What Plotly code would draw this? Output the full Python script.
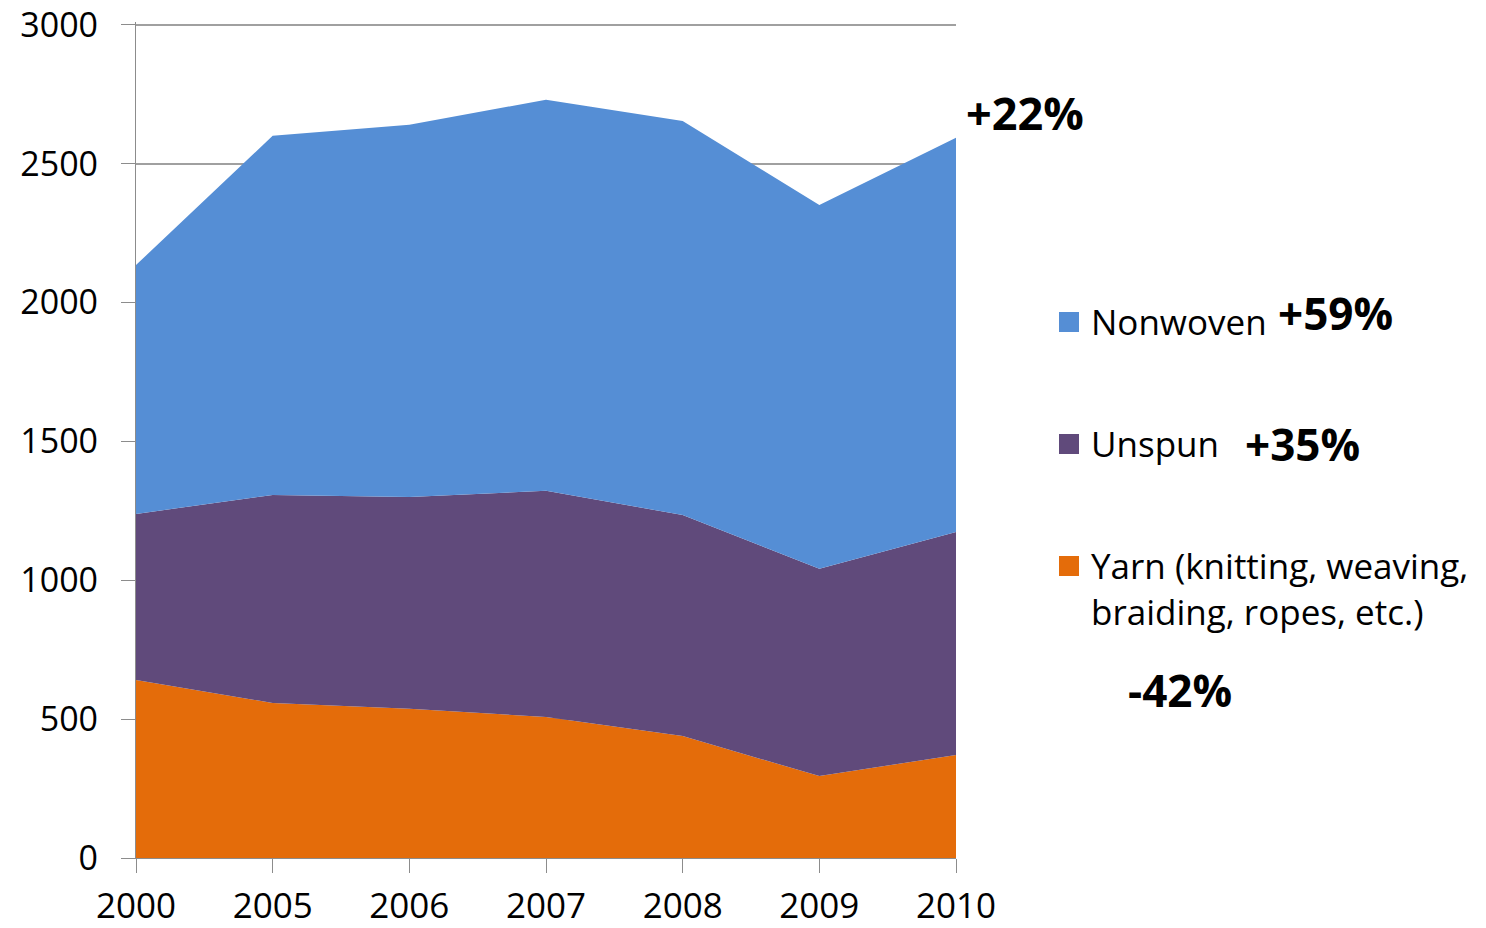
import plotly.graph_objects as go

years = ["2000", "2005", "2006", "2007", "2008", "2009", "2010"]
yarn = [641, 558, 537, 508, 439, 295, 371]
unspun = [598, 749, 763, 814, 796, 746, 803]
nonwoven = [896, 1293, 1340, 1408, 1419, 1310, 1419]

series_names = ["Yarn (knitting, weaving,<br>braiding, ropes, etc.)", "Unspun", "Nonwoven"]
series_colors = ["#E46C0A", "#604A7B", "#558ED5"]
series_changes = ["-42%", "+35%", "+59%"]
total_change = "+22%"
y_ticks = [0, 500, 1000, 1500, 2000, 2500, 3000]
y_max = 3010  # slightly above 3000 so the top gridline is drawn

# target geometry in window pixels; page body has an 8px default margin
OFF = 8
W, H = 1486, 928
L, R, T, B = 136, 530, 22, 70
PW, PH = W - L - R, H - T - B

def px(x):
    return (x - L) / PW

def py(y):
    return (H - B - y) / PH

FONT = "Open Sans"

fig = go.Figure()
for vals, name, col in zip([yarn, unspun, nonwoven], series_names, series_colors):
    fig.add_trace(go.Scatter(
        x=years, y=vals, name=name, stackgroup="one", mode="lines",
        line=dict(width=0, color=col), fillcolor=col, showlegend=False,
    ))

fig.update_layout(
    width=W - OFF, height=H - OFF,
    margin=dict(l=L - OFF, r=R, t=T - OFF, b=B, autoexpand=False),
    paper_bgcolor="white", plot_bgcolor="white",
    font=dict(family=FONT, size=36, color="#000000"),
    showlegend=False,
    xaxis=dict(
        type="category", range=[0, 6], showline=True, linecolor="#8c8c8c", linewidth=1.3,
        ticks="outside", ticklen=14, tickcolor="#8c8c8c", tickwidth=1.3,
        showgrid=False, tickfont=dict(size=35, family=FONT), zeroline=False,
        ticklabelstandoff=3, ticklabeloverflow="allow",
    ),
    yaxis=dict(
        range=[0, y_max], tickvals=y_ticks, showline=True, linecolor="#8c8c8c", linewidth=1.3,
        ticks="outside", ticklen=14, tickcolor="#8c8c8c", tickwidth=1.3,
        showgrid=True, gridcolor="#a0a0a0", gridwidth=1.5, zeroline=False,
        tickfont=dict(size=34, family=FONT), ticklabelstandoff=16,
        ticklabeloverflow="allow",
    ),
)

# legend (manual)
legend_items = [
    (series_names[2], series_colors[2], 322, series_changes[2], 1276, 313),
    (series_names[1], series_colors[1], 444, series_changes[1], 1243, 444),
    (series_names[0], series_colors[0], 566, series_changes[0], 1126, 690),
]
for name, col, yc, chg, cx, cy in legend_items:
    fig.add_shape(type="rect", xref="paper", yref="paper",
                  x0=px(1059), x1=px(1079), y0=py(yc - 10), y1=py(yc + 10),
                  fillcolor=col, line=dict(width=0))
    fig.add_annotation(xref="paper", yref="paper", x=px(1089), y=py(yc - 26),
                       text=name, showarrow=False, xanchor="left", yanchor="top",
                       align="left", font=dict(size=35, family=FONT, color="#000000"))
    fig.add_annotation(xref="paper", yref="paper", x=px(cx), y=py(cy),
                       text="<b>" + chg + "</b>", showarrow=False, xanchor="left",
                       yanchor="middle", font=dict(size=44, family=FONT, color="#000000"))

fig.add_annotation(xref="paper", yref="paper", x=px(964), y=py(113),
                   text="<b>" + total_change + "</b>", showarrow=False, xanchor="left",
                   yanchor="middle", font=dict(size=45, family=FONT, color="#000000"))

fig.write_html("out.html")
